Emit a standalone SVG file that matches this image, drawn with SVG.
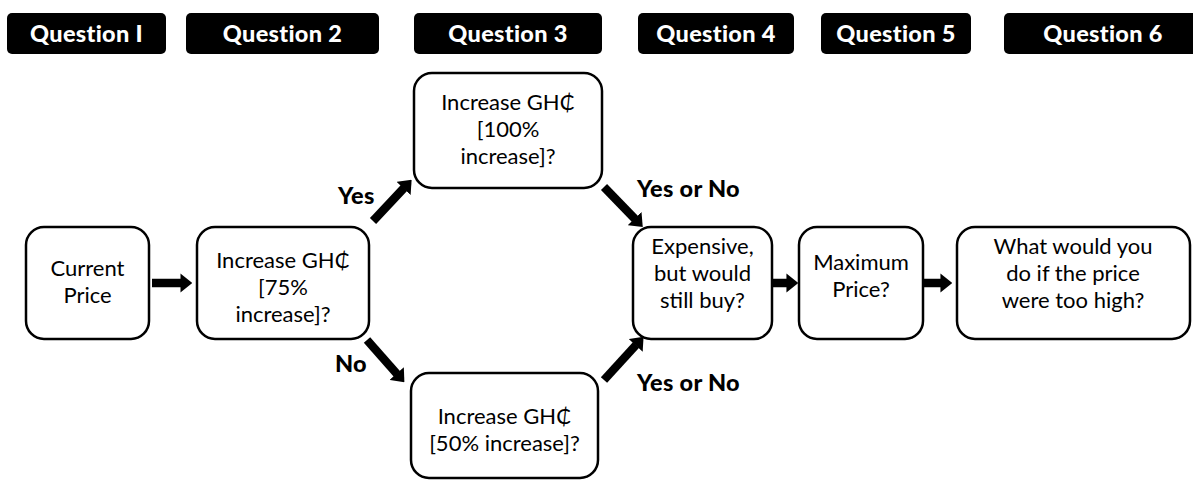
<svg xmlns="http://www.w3.org/2000/svg" width="1193" height="481" viewBox="0 0 1193 481">
<defs>
<style>
.hdr{fill:#000}
.htxt{font-family:Lato,"Open Sans","DejaVu Sans",sans-serif;font-weight:900;font-size:23.5px;fill:#fff;text-anchor:middle;letter-spacing:0.3px}
.box{fill:#fff;stroke:#000;stroke-width:2.5}
.ntxt{font-family:Lato,"DejaVu Sans",sans-serif;font-size:22px;fill:#000;text-anchor:middle}
.lbl{font-family:Lato,"Open Sans",sans-serif;font-weight:900;font-size:23.5px;fill:#000;letter-spacing:0.3px}
.arr{stroke:#000;stroke-width:8.5;fill:none;marker-end:url(#ah)}
</style>
<marker id="ah" viewBox="0 0 11 18" refX="0.5" refY="9" markerWidth="1.4" markerHeight="2.25" orient="auto" markerUnits="strokeWidth">
<path d="M0,0 L11,9 L0,18 z" fill="#000"/>
</marker>
</defs>
<rect width="1193" height="481" fill="#fff"/>
<g id="headers">
<g id="q1"><rect class="hdr" x="7" y="13" width="159" height="41" rx="5"/><text class="htxt" x="86.5" y="42">Question I</text></g>
<g id="q2"><rect class="hdr" x="186" y="13" width="193" height="41" rx="5"/><text class="htxt" x="282.5" y="42">Question 2</text></g>
<g id="q3"><rect class="hdr" x="414" y="13" width="188" height="41" rx="5"/><text class="htxt" x="508" y="42">Question 3</text></g>
<g id="q4"><rect class="hdr" x="638" y="13" width="156" height="41" rx="5"/><text class="htxt" x="716" y="42">Question 4</text></g>
<g id="q5"><rect class="hdr" x="821" y="13" width="150" height="41" rx="5"/><text class="htxt" x="896" y="42">Question 5</text></g>
<g id="q6"><rect class="hdr" x="1004" y="13" width="200" height="41" rx="5"/><text class="htxt" x="1103" y="42">Question 6</text></g>
</g>
<g id="connectors">
<line class="arr" x1="152" y1="283" x2="181" y2="283"/>
<line class="arr" x1="773" y1="283" x2="787" y2="283"/>
<line class="arr" x1="923" y1="283" x2="941" y2="283"/>
<line class="arr" x1="373" y1="221" x2="404" y2="188"/>
<line class="arr" x1="367" y1="340" x2="397" y2="374"/>
<line class="arr" x1="604" y1="187" x2="635" y2="219"/>
<line class="arr" x1="604" y1="380" x2="636" y2="345"/>
<text class="lbl" x="338" y="204">Yes</text>
<text class="lbl" x="335" y="372">No</text>
<text class="lbl" x="637" y="197">Yes or No</text>
<text class="lbl" x="637" y="391">Yes or No</text>
</g>
<g id="current"><rect class="box" x="26" y="227" width="123" height="112" rx="18"/><text class="ntxt" x="87.5" y="276">Current</text><text class="ntxt" x="87.5" y="303">Price</text></g>
<g id="q75"><rect class="box" x="197" y="227" width="172" height="112" rx="18"/><text class="ntxt" x="283" y="268">Increase GH₵</text><text class="ntxt" x="283" y="295">[75%</text><text class="ntxt" x="283" y="322">increase]?</text></g>
<g id="q100"><rect class="box" x="414" y="73" width="188" height="115" rx="18"/><text class="ntxt" x="508" y="110">Increase GH₵</text><text class="ntxt" x="508" y="137">[100%</text><text class="ntxt" x="508" y="164">increase]?</text></g>
<g id="q50"><rect class="box" x="411" y="373" width="187" height="105" rx="18"/><text class="ntxt" x="504.5" y="424">Increase GH₵</text><text class="ntxt" x="504.5" y="451">[50% increase]?</text></g>
<g id="expensive"><rect class="box" x="633" y="227" width="139" height="112" rx="18"/><text class="ntxt" x="702.5" y="254">Expensive,</text><text class="ntxt" x="702.5" y="281">but would</text><text class="ntxt" x="702.5" y="308">still buy?</text></g>
<g id="maximum"><rect class="box" x="799" y="227" width="124" height="112" rx="18"/><text class="ntxt" x="861" y="270">Maximum</text><text class="ntxt" x="861" y="297">Price?</text></g>
<g id="toohigh"><rect class="box" x="957" y="227" width="233" height="112" rx="18"/><text class="ntxt" x="1073" y="254">What would you</text><text class="ntxt" x="1073" y="281">do if the price</text><text class="ntxt" x="1073" y="308">were too high?</text></g>
</svg>
